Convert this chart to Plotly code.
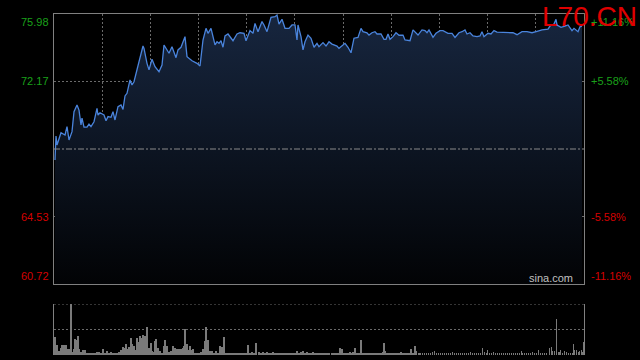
import plotly.graph_objects as go

# ---------------- data ----------------
prev_close = 68.35
price_min, price_max = 60.72, 75.98
left_tick_vals = [75.98, 72.17, 64.53, 60.72]
left_tick_text = ["75.98", "72.17", "64.53", "60.72"]
right_tick_text = ["+11.16%", "+5.58%", "-5.58%", "-11.16%"]
tick_colors = ["#1aa01a", "#1aa01a", "#d40000", "#d40000"]
grid_prices = [72.17, 64.53]
n_time_divisions = 11
session_minutes = 530

price_t = [1, 2, 3, 5, 7, 11, 13, 15, 18, 20, 23, 25, 27, 28, 30, 33, 35, 37, 40, 43,
           44, 46, 50, 52, 54, 57, 59, 61, 64, 67, 69, 71, 73, 76, 78, 80, 83, 85, 89, 90,
           93, 95, 98, 101, 105, 108, 110, 113, 115, 118, 122, 124, 127, 131, 133, 138, 143, 146, 149, 152,
           154, 157, 159, 161, 163, 165, 167, 169, 171, 174, 179, 183, 186, 190, 192, 196, 199, 201, 204, 208,
           210, 213, 217, 221, 223, 225, 228, 231, 235, 238, 241, 243, 244, 247, 249, 251, 254, 257, 260, 263,
           265, 269, 272, 275, 278, 283, 285, 291, 294, 297, 300, 304, 307, 309, 313, 315, 318, 321, 323, 327,
           330, 332, 334, 336, 339, 342, 345, 349, 351, 356, 359, 364, 368, 371, 373, 375, 379, 382, 386, 389,
           394, 398, 401, 405, 408, 411, 413, 416, 419, 423, 426, 428, 430, 434, 437, 440, 443, 451, 459, 463,
           468, 473, 478, 483, 488, 494, 496, 500, 502, 503, 507, 511, 514, 518, 520, 524, 526, 528]
price_v = [67.73, 69.08, 68.58, 68.97, 69.27, 69.14, 69.61, 68.86, 69.33, 70.46, 70.84, 70.55, 69.71, 70.10, 69.59, 69.59, 69.76, 69.61, 69.89, 70.65,
           70.27, 70.40, 70.27, 69.95, 70.18, 70.14, 70.46, 69.99, 70.74, 70.84, 70.59, 71.35, 71.50, 72.25, 71.97, 72.15, 72.91, 73.28, 74.17, 74.04,
           73.19, 72.82, 73.42, 73.00, 72.72, 73.10, 74.23, 73.95, 73.76, 74.13, 73.51, 73.95, 74.10, 74.70, 73.57, 73.34, 73.19, 73.04, 74.51, 75.17,
           74.89, 75.17, 74.70, 74.23, 74.41, 74.32, 74.47, 74.10, 74.74, 74.85, 74.47, 74.85, 74.92, 74.89, 74.47, 75.04, 74.89, 75.45, 74.98, 75.55,
           75.36, 74.98, 75.79, 75.83, 75.92, 75.41, 75.68, 75.17, 75.17, 75.36, 75.36, 74.51, 75.36, 74.70, 73.95, 74.41, 74.79, 74.61, 74.10, 74.32,
           74.13, 74.36, 74.17, 74.41, 74.28, 74.17, 74.04, 74.32, 74.10, 73.79, 74.61, 74.66, 75.17, 74.98, 74.92, 74.79, 74.92, 74.98, 74.85, 74.85,
           74.55, 74.55, 74.85, 74.55, 74.70, 74.92, 74.78, 74.79, 74.51, 74.47, 75.08, 74.79, 75.08, 75.04, 74.92, 75.08, 74.66, 74.89, 75.04, 75.04,
           74.89, 74.89, 74.66, 74.92, 74.98, 75.08, 74.85, 74.92, 74.74, 74.70, 74.74, 74.98, 74.70, 74.89, 74.85, 75.04, 74.96, 74.92, 74.92, 74.81,
           74.98, 74.98, 74.92, 75.00, 75.08, 75.12, 75.30, 75.41, 75.68, 75.36, 75.23, 75.30, 75.36, 75.04, 75.17, 74.98, 75.26, 75.30]

vol_t = [1, 3, 5, 7, 8, 10, 12, 14, 15, 17, 18, 20, 21, 23, 24, 25, 27, 29, 31, 33,
         35, 37, 39, 41, 43, 45, 47, 49, 51, 53, 55, 57, 59, 61, 63, 65, 67, 69, 70, 72,
         73, 75, 77, 78, 80, 81, 83, 85, 86, 88, 89, 91, 93, 95, 97, 98, 99, 101, 102, 104,
         106, 108, 110, 111, 112, 113, 115, 117, 119, 120, 121, 123, 125, 127, 129, 130, 131, 133, 135, 136,
         138, 139, 141, 143, 145, 147, 149, 151, 152, 154, 156, 158, 160, 162, 164, 166, 168, 170, 172, 174,
         176, 178, 180, 182, 184, 186, 188, 190, 192, 194, 196, 198, 200, 202, 205, 207, 209, 211, 213, 215,
         217, 219, 221, 223, 225, 227, 229, 231, 233, 235, 237, 239, 241, 243, 245, 247, 249, 251, 253, 255,
         257, 259, 261, 263, 265, 267, 269, 271, 273, 275, 278, 280, 282, 284, 286, 288, 290, 292, 294, 296,
         298, 299, 301, 303, 305, 307, 309, 311, 313, 315, 317, 319, 321, 323, 325, 327, 329, 330, 331, 333,
         335, 337, 339, 341, 343, 345, 347, 349, 351, 353, 355, 357, 359, 361, 362, 365, 367, 369, 371, 373,
         375, 377, 379, 381, 383, 385, 387, 389, 391, 393, 395, 397, 399, 401, 403, 405, 407, 409, 411, 413,
         415, 417, 419, 421, 423, 425, 427, 429, 431, 433, 434, 436, 438, 440, 442, 444, 446, 448, 450, 452,
         454, 456, 458, 460, 462, 464, 466, 468, 469, 471, 473, 475, 477, 479, 481, 483, 485, 487, 489, 491,
         493, 496, 498, 499, 501, 503, 505, 506, 507, 509, 511, 513, 515, 517, 519, 520, 521, 523, 525, 526,
         528, 529, 530]
vol_v = [18, 10, 4, 7, 10, 10, 10, 6, 6, 50.7, 3, 6, 16, 15, 19, 6, 3, 5, 5, 2,
         2, 2, 2, 1, 3, 3, 2, 6, 1, 4, 2, 3, 1, 2, 2, 3, 5, 8, 7, 11,
         6, 8, 17, 11, 9, 5, 17, 13, 19, 17, 20, 19, 28, 7, 12, 4, 3, 14, 16, 7,
         4, 2, 9, 15, 6, 9, 3, 4, 9, 5, 7, 6, 6, 6, 7, 9, 26, 11, 5, 9,
         5, 6, 2, 1, 2, 3, 6, 14, 28, 15, 4, 4, 2, 4, 2, 9, 8, 18, 2, 1,
         2, 2, 1, 2, 2, 1, 2, 1, 2, 10, 2, 3, 2, 12, 3, 2, 3, 2, 3, 2,
         2, 3, 2, 2, 1, 2, 2, 2, 2, 2, 2, 2, 2, 4, 2, 3, 4, 2, 3, 2,
         2, 3, 2, 1, 2, 2, 2, 2, 2, 2, 2, 2, 2, 2, 7, 6, 2, 2, 2, 3,
         2, 3, 7, 2, 2, 15, 2, 2, 2, 2, 2, 2, 2, 2, 2, 2, 3, 12, 4, 2,
         2, 2, 2, 2, 2, 2, 3, 2, 2, 2, 2, 6, 2, 9, 4, 2, 2, 2, 2, 2,
         2, 2, 3, 4, 2, 2, 2, 2, 2, 2, 2, 2, 3, 2, 2, 2, 2, 2, 2, 2,
         2, 3, 2, 2, 2, 2, 2, 7, 3, 2, 5, 2, 2, 3, 2, 2, 2, 2, 2, 2,
         2, 2, 2, 2, 2, 2, 2, 4, 2, 2, 2, 2, 2, 3, 2, 2, 5, 2, 2, 2,
         2, 7, 8, 4, 4, 36, 3, 3, 5, 2, 4, 3, 2, 2, 2, 11, 5, 5, 3, 4,
         5, 3, 13]

title_text = "L70.CN"
watermark = "sina.com"

# ---------------- figure ----------------
W, H = 640, 360
ml, mr, mt, mb = 54, 56, 14, 5
plot_w = W - ml - mr
plot_h = H - mt - mb
price_dom = [(355 - 284) / plot_h, 1.0]
vol_dom = [0.0, (355 - 304) / plot_h]
vmax = max(vol_v)

fig = go.Figure()
fig.add_trace(go.Scatter(
    x=price_t, y=price_v, mode="lines",
    line=dict(color="#4a84dc", width=1.3),
    fill="tozeroy",
    fillgradient=dict(type="vertical", start=price_min, stop=price_max,
                      colorscale=[[0, "#020305"], [1, "#17263f"]]),
    xaxis="x", yaxis="y", hoverinfo="skip"))
fig.add_trace(go.Bar(
    x=vol_t, y=vol_v, width=0.7, marker=dict(color="#7a7a7a", line=dict(width=0)),
    xaxis="x2", yaxis="y2", hoverinfo="skip"))

grid_x = [session_minutes * k / n_time_divisions for k in range(1, n_time_divisions)]
gridc = "#6a6a6a"
fig.update_layout(
    width=W, height=H, margin=dict(l=ml, r=mr, t=mt, b=mb),
    paper_bgcolor="black", plot_bgcolor="black", showlegend=False,
    font=dict(family="Arial, Liberation Sans, sans-serif"),
    xaxis=dict(domain=[0, 1], range=[0, session_minutes], anchor="y",
               tickvals=grid_x, showticklabels=False, ticks="",
               showgrid=True, gridcolor=gridc, griddash="2px,2px", gridwidth=1,
               zeroline=False, showline=True, mirror=True, linecolor="#808080", linewidth=1),
    yaxis=dict(domain=price_dom, range=[price_min, price_max], anchor="x",
               tickvals=grid_prices, showticklabels=False, ticks="",
               showgrid=True, gridcolor=gridc, griddash="2px,2px", gridwidth=1,
               zeroline=False, showline=True, mirror=True, linecolor="#808080", linewidth=1),
    xaxis2=dict(domain=[0, 1], range=[0, session_minutes + 0.5], anchor="y2",
                showticklabels=False, showgrid=False, zeroline=False, showline=False, ticks=""),
    yaxis2=dict(domain=vol_dom, range=[0, vmax], anchor="x2",
                tickvals=[vmax / 2], showticklabels=False, ticks="",
                showgrid=True, gridcolor=gridc, griddash="2px,2px", gridwidth=1,
                zeroline=False, showline=True, mirror=True, linecolor="#808080", linewidth=1),
    bargap=0,
)

# top dotted line of the volume panel
fig.add_shape(type="line", xref="x2 domain", yref="y2", x0=0, x1=1, y0=vmax, y1=vmax,
              line=dict(color=gridc, width=1, dash="2px,2px"), layer="below")

# previous close dash-dot line
fig.add_shape(type="line", xref="x", yref="y", x0=0, x1=session_minutes,
              y0=prev_close, y1=prev_close,
              line=dict(color="#8a8a8a", width=1, dash="6px,2px,2px,2px"))

anchors = ["top", "middle", "middle", "bottom"]
for val, lt, rt, col, anc in zip(left_tick_vals, left_tick_text, right_tick_text, tick_colors, anchors):
    fig.add_annotation(x=(51 - ml) / plot_w, y=val, xref="paper", yref="y",
                       text=lt, showarrow=False, xanchor="right", yanchor=anc,
                       font=dict(size=11, color=col))
    fig.add_annotation(x=(589 - ml) / plot_w, y=val, xref="paper", yref="y",
                       text=rt, showarrow=False, xanchor="left", yanchor=anc,
                       font=dict(size=11, color=col))

fig.add_annotation(x=(575 - ml) / plot_w, y=price_min, xref="paper", yref="y",
                   text=watermark, showarrow=False, xanchor="right", yanchor="bottom",
                   yshift=-2, font=dict(size=11, color="#c0c0c0"))

fig.add_annotation(x=(639 - ml) / plot_w, y=1 + (mt + 1) / plot_h, xref="paper", yref="paper",
                   text=title_text, showarrow=False, xanchor="right", yanchor="top",
                   font=dict(size=28, color="#e00000"))

fig.write_html("out.html", config={"displayModeBar": False},
               post_script="document.body.style.margin='0px';document.body.style.background='black';")
